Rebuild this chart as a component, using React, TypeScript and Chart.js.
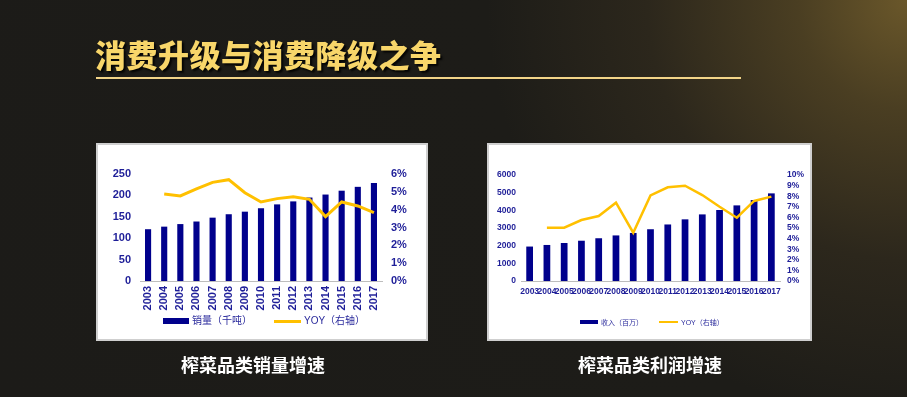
import React, { useEffect, useRef } from "react";
import { Chart, registerables } from "chart.js";

Chart.register(...registerables);

// ---------- data ----------
const years = ["2003", "2004", "2005", "2006", "2007", "2008", "2009", "2010", "2011", "2012", "2013", "2014", "2015", "2016", "2017"];
// 榨菜品类销量（千吨）
const salesVolume = [121, 127, 133, 139, 148, 156, 162, 170, 179, 186, 195, 202, 211, 220, 229];
// 销量 YOY（%）
const salesYoy = [null, 4.88, 4.77, 5.16, 5.53, 5.68, 4.95, 4.43, 4.62, 4.73, 4.58, 3.61, 4.43, 4.21, 3.83];
// 榨菜品类收入（百万）
const revenue = [1950, 2040, 2150, 2280, 2420, 2580, 2720, 2930, 3200, 3490, 3770, 4020, 4280, 4580, 4960];
// 收入 YOY（%）
const revenueYoy = [null, 5.03, 5.03, 5.75, 6.13, 7.39, 4.56, 8.08, 8.84, 8.99, 8.11, 7.01, 5.97, 7.55, 7.96];

const leftTicks1 = { max: 250, step: 50 };
const rightTicks1 = { max: 6, step: 1 };
const leftTicks2 = { max: 6000, step: 1000 };
const rightTicks2 = { max: 10, step: 1 };

const NAVY = "#00008c";
const TICK = "#1e1e98";
const YELLOW = "#ffc000";
const FONT = "'Liberation Sans', Arial, 'Noto Sans CJK SC', sans-serif";

type Spec = {
  bars: number[];
  yoy: (number | null)[];
  barLabel: string;
  left: { max: number; step: number };
  right: { max: number; step: number };
  leftWidth: number;
  rightWidth: number;
  padTop: number;
  xHeight: number;
  leftPad: number;
  rightPad: number;
  xPad: number;
  rotate: boolean;
  tickSize: number;
  xTickSize: number;
  barPct: number;
  lineWidth: number;
};

function ComboChart({ spec, width, height }: { spec: Spec; width: number; height: number }) {
  const ref = useRef<HTMLCanvasElement | null>(null);
  useEffect(() => {
    if (!ref.current) return;
    const chart = new Chart(ref.current, {
      type: "bar",
      data: {
        labels: years,
        datasets: [
          {
            type: "line",
            label: "YOY（右轴）",
            data: spec.yoy as any,
            yAxisID: "y1",
            borderColor: YELLOW,
            backgroundColor: YELLOW,
            borderWidth: spec.lineWidth,
            pointRadius: 0,
            tension: 0,
            order: 0,
          } as any,
          {
            type: "bar",
            label: spec.barLabel,
            data: spec.bars,
            yAxisID: "y",
            backgroundColor: NAVY,
            borderWidth: 0,
            barPercentage: spec.barPct,
            categoryPercentage: 1,
            order: 1,
          },
        ],
      },
      options: {
        animation: false,
        responsive: false,
        maintainAspectRatio: false,
        layout: { padding: { top: spec.padTop, left: 0, right: 0, bottom: 0 } },
        plugins: { legend: { display: false }, tooltip: { enabled: false } },
        scales: {
          x: {
            grid: { display: false, drawTicks: false },
            border: { display: true, color: "#bdbdbd", width: 1 },
            ticks: {
              color: TICK,
              font: { family: FONT, size: spec.xTickSize, weight: "bold" },
              autoSkip: false,
              minRotation: spec.rotate ? 90 : 0,
              maxRotation: spec.rotate ? 90 : 0,
              padding: spec.xPad,
            },
            afterFit: (s: any) => {
              s.height = spec.xHeight;
            },
          },
          y: {
            position: "left",
            min: 0,
            max: spec.left.max,
            grid: { display: false, drawTicks: false },
            border: { display: false },
            ticks: {
              stepSize: spec.left.step,
              autoSkip: false,
              color: TICK,
              font: { family: FONT, size: spec.tickSize, weight: "bold" },
              padding: spec.leftPad,
              callback: (v: any) => String(v),
            },
            afterFit: (s: any) => {
              s.width = spec.leftWidth;
            },
          },
          y1: {
            position: "right",
            min: 0,
            max: spec.right.max,
            grid: { display: false, drawTicks: false },
            border: { display: false },
            ticks: {
              stepSize: spec.right.step,
              autoSkip: false,
              color: TICK,
              font: { family: FONT, size: spec.tickSize, weight: "bold" },
              padding: spec.rightPad,
              callback: (v: any) => `${v}%`,
            },
            afterFit: (s: any) => {
              s.width = spec.rightWidth;
            },
          },
        },
      },
    });
    return () => chart.destroy();
  }, [spec]);
  return <canvas ref={ref} width={width} height={height} style={{ display: "block", width, height }} />;
}

const spec1: Spec = {
  bars: salesVolume,
  yoy: salesYoy,
  barLabel: "销量（千吨）",
  left: leftTicks1,
  right: rightTicks1,
  leftWidth: 42,
  rightWidth: 44,
  padTop: 29,
  xHeight: 58,
  leftPad: 9,
  rightPad: 9,
  xPad: 5,
  rotate: true,
  tickSize: 11,
  xTickSize: 11,
  barPct: 0.38,
  lineWidth: 3,
};

const spec2: Spec = {
  bars: revenue,
  yoy: revenueYoy,
  barLabel: "收入（百万）",
  left: leftTicks2,
  right: rightTicks2,
  leftWidth: 32,
  rightWidth: 30,
  padTop: 30,
  xHeight: 58,
  leftPad: 5,
  rightPad: 7,
  xPad: 6,
  rotate: false,
  tickSize: 8.5,
  xTickSize: 8.5,
  barPct: 0.39,
  lineWidth: 2.5,
};

function Legend({
  left,
  top,
  barLabel,
  fontSize,
  barW,
  barH,
  lineW,
  lineH,
  gap,
}: {
  left: number;
  top: number;
  barLabel: string;
  fontSize: number;
  barW: number;
  barH: number;
  lineW: number;
  lineH: number;
  gap: number;
}) {
  const item: React.CSSProperties = { display: "flex", alignItems: "center" };
  const text: React.CSSProperties = {
    fontFamily: FONT,
    fontSize,
    color: "#2a2a9c",
    marginLeft: 3,
    whiteSpace: "nowrap",
    lineHeight: 1,
  };
  return (
    <div style={{ position: "absolute", left, top, display: "flex", alignItems: "center", height: 12 }}>
      <div style={item}>
        <span style={{ display: "inline-block", width: barW, height: barH, background: NAVY }} />
        <span style={text}>{barLabel}</span>
      </div>
      <div style={{ ...item, marginLeft: gap }}>
        <span style={{ display: "inline-block", width: lineW, height: lineH, background: YELLOW }} />
        <span style={text}>YOY（右轴）</span>
      </div>
    </div>
  );
}

export default function App() {
  const box: React.CSSProperties = {
    position: "absolute",
    top: 143,
    height: 198,
    boxSizing: "border-box",
    border: "2px solid #cfcfcf",
    background: "#ffffff",
  };
  const caption: React.CSSProperties = {
    position: "absolute",
    top: 353,
    fontFamily: "'Noto Sans CJK SC', sans-serif",
    fontWeight: 700,
    fontSize: 18,
    lineHeight: "22px",
    color: "#ffffff",
    whiteSpace: "nowrap",
  };
  return (
    <div
      style={{
        position: "fixed",
        left: 0,
        top: 0,
        width: 907,
        height: 397,
        overflow: "hidden",
        background:
          "radial-gradient(circle at 100% 0%, #6a572a 0px, #4a3e22 110px, #2c271c 260px, #1d1c18 420px, #1c1b18 100%)",
      }}
    >
      <div
        style={{
          position: "absolute",
          left: 95,
          top: 36,
          fontFamily: "'Noto Sans CJK SC', sans-serif",
          fontWeight: 900,
          fontSize: 31,
          lineHeight: "36px",
          color: "#f8d66a",
          textShadow: "2px 2px 2px rgba(0,0,0,0.85)",
          whiteSpace: "nowrap",
          letterSpacing: 0.5,
        }}
      >
        消费升级与消费降级之争
      </div>
      <div style={{ position: "absolute", left: 96, top: 77, width: 645, height: 1.5, background: "#f2d488" }} />

      <div style={{ ...box, left: 96, width: 332 }}>
        <ComboChart spec={spec1} width={328} height={194} />
        <Legend left={65} top={170} barLabel="销量（千吨）" fontSize={10} barW={26} barH={6} lineW={27} lineH={3} gap={22} />
      </div>

      <div style={{ ...box, left: 487, width: 325 }}>
        <ComboChart spec={spec2} width={321} height={194} />
        <Legend left={91} top={171} barLabel="收入（百万）" fontSize={7} barW={18} barH={4} lineW={19} lineH={2.5} gap={16} />
      </div>

      <div style={{ ...caption, left: 181 }}>榨菜品类销量增速</div>
      <div style={{ ...caption, left: 578 }}>榨菜品类利润增速</div>
    </div>
  );
}
